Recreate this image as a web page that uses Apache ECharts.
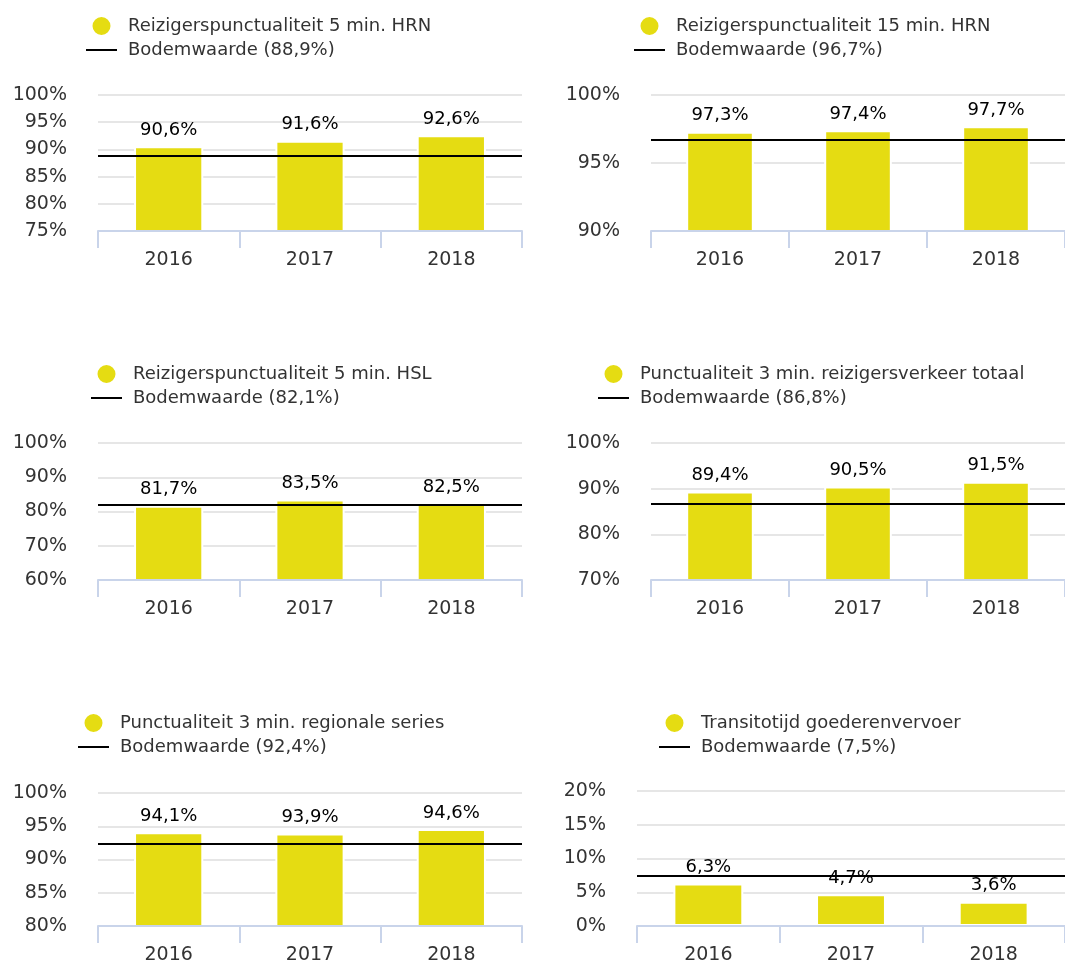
<!DOCTYPE html>
<html>
<head>
<meta charset="utf-8">
<script src="https://cdn.jsdelivr.net/npm/echarts@6/dist/echarts.min.js"></script>
<style>
  html, body { margin: 0; padding: 0; background: #fff; }
  #chart { width: 1065px; height: 965px; }
</style>
</head>
<body>
<div id="chart"></div>
<script>
const years = ["2016", "2017", "2018"];

const hrn5 = [90.6, 91.6, 92.6];
const hrn15 = [97.3, 97.4, 97.7];
const hsl5 = [81.7, 83.5, 82.5];
const totaal3 = [89.4, 90.5, 91.5];
const regionaal3 = [94.1, 93.9, 94.6];
const transito = [6.3, 4.7, 3.6];

const seriesNames = [
  "Reizigerspunctualiteit 5 min. HRN",
  "Reizigerspunctualiteit 15 min. HRN",
  "Reizigerspunctualiteit 5 min. HSL",
  "Punctualiteit 3 min. reizigersverkeer totaal",
  "Punctualiteit 3 min. regionale series",
  "Transitotijd goederenvervoer"
];
const seriesValues = [hrn5, hrn15, hsl5, totaal3, regionaal3, transito];
const floors = [88.9, 96.7, 82.1, 86.8, 92.4, 7.5];
const axisMin = [75, 90, 60, 70, 80, 0];
const axisMax = [100, 100, 100, 100, 100, 20];
const axisStep = [5, 5, 10, 10, 5, 5];

// panel layout
const grids = [
  { left: 98, top: 95, width: 424, height: 136 },
  { left: 651, top: 95, width: 414, height: 136 },
  { left: 98, top: 443, width: 424, height: 137 },
  { left: 651, top: 443, width: 414, height: 137 },
  { left: 98, top: 793, width: 424, height: 136 },
  { left: 637, top: 791, width: 428, height: 138 }
];
const legendPos = [
  { left: 86, top: 15 },
  { left: 634, top: 15 },
  { left: 91, top: 363 },
  { left: 598, top: 363 },
  { left: 78, top: 712 },
  { left: 659, top: 712 }
];

const FONT = "DejaVu Sans";
const YELLOW = "#e5dc12";
const AXIS_BLUE = "#c9d4ea";

const fmt = v => String(v).replace(".", ",") + "%";

const chart = echarts.init(document.getElementById("chart"));

const option = {
  animation: false,
  textStyle: { fontFamily: FONT },
  grid: grids.map(g => Object.assign({ containLabel: false }, g)),
  legend: [],
  xAxis: [],
  yAxis: [],
  series: []
};

seriesNames.forEach((name, i) => {
  const floorName = "Bodemwaarde (" + fmt(floors[i]) + ")";
  option.legend.push({
    orient: "vertical",
    left: legendPos[i].left,
    top: legendPos[i].top,
    padding: 0,
    itemWidth: 31,
    itemHeight: 20,
    itemGap: 4,
    selectedMode: false,
    textStyle: { fontFamily: FONT, fontSize: 18, color: "#333", padding: [0, 0, 0, 6] },
    data: [
      { name: name, icon: "circle" },
      { name: floorName, icon: "path://M0,0H31V2H0Z" }
    ]
  });
  option.xAxis.push({
    type: "category",
    gridIndex: i,
    data: years,
    z: 3,
    axisLine: { show: true, lineStyle: { color: AXIS_BLUE, width: 2 } },
    axisTick: { show: true, alignWithLabel: false, length: 17, lineStyle: { color: AXIS_BLUE, width: 2 } },
    axisLabel: { fontFamily: FONT, fontSize: 19, color: "#333", margin: 20 }
  });
  option.yAxis.push({
    type: "value",
    gridIndex: i,
    min: axisMin[i],
    max: axisMax[i],
    interval: axisStep[i],
    axisLine: { show: false },
    axisTick: { show: false },
    splitLine: { lineStyle: { color: "#e6e6e6", width: 2 } },
    axisLabel: { fontFamily: FONT, fontSize: 19, color: "#333", margin: 31, formatter: "{value}%" }
  });
  option.series.push({
    name: name,
    type: "bar",
    xAxisIndex: i,
    yAxisIndex: i,
    data: seriesValues[i],
    barWidth: "49%",
    color: YELLOW,
    itemStyle: { color: YELLOW, borderColor: "#fff", borderWidth: 2 },
    label: {
      show: true,
      position: "top",
      distance: 7,
      fontFamily: FONT,
      fontSize: 18,
      color: "#000",
      formatter: p => fmt(p.value)
    },
    emphasis: { disabled: true },
    silent: true
  });
  option.series.push({
    name: floorName,
    type: "line",
    xAxisIndex: i,
    yAxisIndex: i,
    data: [],
    color: "#000",
    silent: true,
    markLine: {
      silent: true,
      symbol: ["none", "none"],
      label: { show: false },
      lineStyle: { color: "#000", width: 2, type: "solid" },
      data: [{ yAxis: floors[i] }]
    }
  });
});

chart.setOption(option);
</script>
</body>
</html>
